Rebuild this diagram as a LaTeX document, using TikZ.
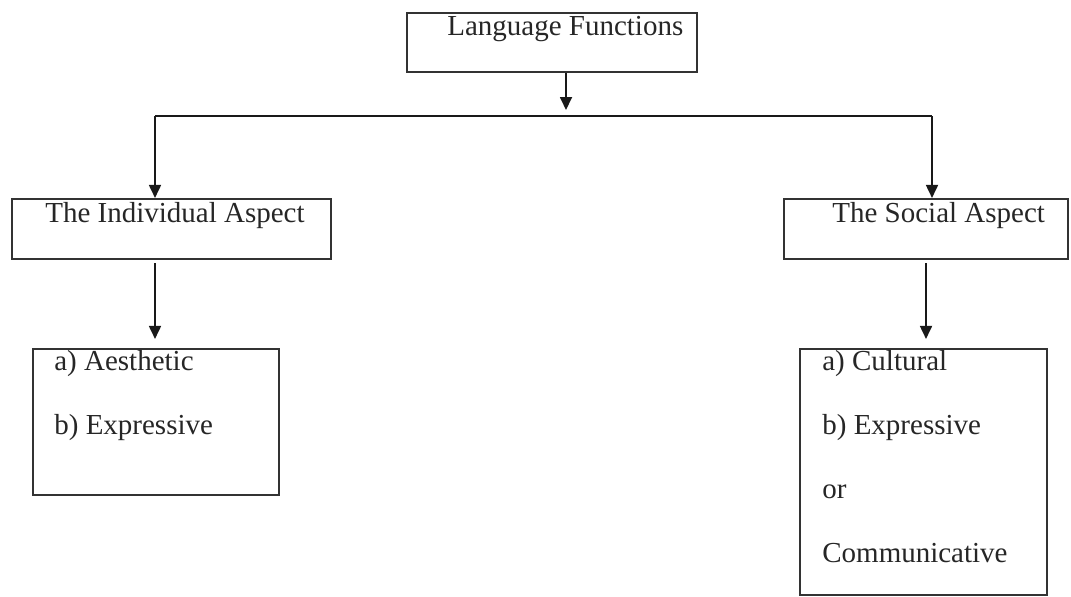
\documentclass[tikz,border=0pt]{standalone}
\usepackage{fontspec}
\setmainfont{Liberation Serif}
\usetikzlibrary{positioning, arrows.meta}

\tikzset{
    box/.style={shape=rectangle, draw=black!80, line width=1.2pt, inner sep=0pt},
    txt/.style={anchor=base west, inner sep=0pt, text=black!85, align=left,
        font=\fontsize{16.5}{36.4}\selectfont},
    arr/.style={-{Triangle[width=0.24cm, length=0.26cm]}, line width=1pt, black!90}
}

\begin{document}
\begin{tikzpicture}
    \useasboundingbox (0,0) rectangle (21.42,-11.92);

    \node[box, minimum width=5.8cm, minimum height=1.18cm] (lf) at (11.04, -0.85) {};
    \node[box, minimum width=6.38cm, minimum height=1.2cm] (ind) at (3.43, -4.58) {};
    \node[box, minimum width=5.68cm, minimum height=1.2cm] (soc) at (18.52, -4.58) {};
    \node[box, minimum width=4.92cm, minimum height=2.92cm] (aes) at (3.12, -8.44) {};
    \node[box, minimum width=4.94cm, minimum height=4.92cm] (cul) at (18.47, -9.44) {};

    % base west of a multi-line text is the baseline of its last line
    \node[txt] (lfT) at (8.94, -0.70) {Language Functions};
    \node[txt] (indT) at (0.90, -4.44) {The Individual Aspect};
    \node[txt] (socT) at (16.64, -4.44) {The Social Aspect};
    \node[txt] (aesT) at (1.08, -8.68) {a) Aesthetic\\b) Expressive};
    \node[txt] (culT) at (16.44, -11.24) {a) Cultural\\b) Expressive\\or\\Communicative};

    \coordinate (join) at (11.32, -2.32);
    \coordinate (lj) at (3.10, -2.32);
    \coordinate (rj) at (18.64, -2.32);

    \draw[arr] (lf.south -| join) -- ([yshift=0.12cm]join);
    \draw[line width=1pt, black!90] (lj) -- (rj);
    \draw[arr] (lj) -- (lj |- ind.north);
    \draw[arr] (rj) -- (rj |- soc.north);

    \draw[arr] ([yshift=-0.06cm]ind.south -| lj) -- ([yshift=0.18cm]aes.north -| lj);
    \draw[arr] ([yshift=-0.06cm]soc.south) -- ([yshift=0.18cm]soc.south |- cul.north);
\end{tikzpicture}
\end{document}
